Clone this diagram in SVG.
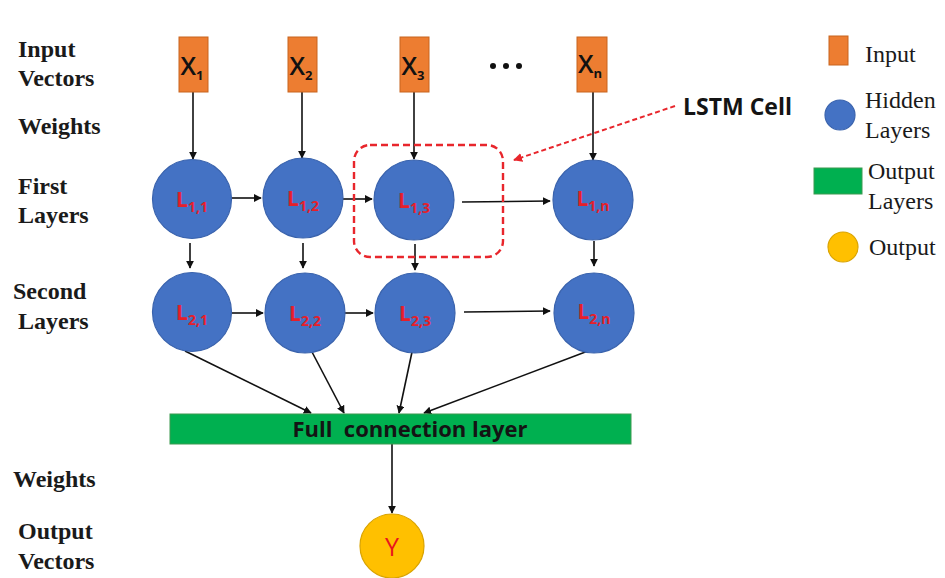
<svg xmlns="http://www.w3.org/2000/svg" width="945" height="578" viewBox="0 0 945 578">
  <style>
    .row-label { font-family: "Liberation Serif", serif; font-weight: bold; font-size: 24px; fill: #1a1a1a; }
    .legend-text { font-family: "Liberation Serif", serif; font-size: 24px; fill: #1a1a1a; }
    .input-box { fill: #ED7D31; stroke: #C8641E; stroke-width: 1; }
    .hidden { fill: #4472C4; stroke: #3A63AD; stroke-width: 1.2; }
    .fc { fill: #00B050; stroke: #3C9A50; stroke-width: 1; }
    .out { fill: #FFC000; stroke: #D9A300; stroke-width: 1.2; }
    .xlab { font-family: "Open Sans", "Liberation Sans", sans-serif; font-weight: 600; font-size: 25px; fill: #111; text-anchor: middle; }
    .xsub { font-size: 13px; font-weight: bold; }
    .llab { font-family: "Open Sans", "Liberation Sans", sans-serif; font-weight: bold; font-size: 21px; fill: #E5202A; text-anchor: middle; }
    .lsub { font-size: 14px; }
    .edge { stroke: #111; stroke-width: 1.6; fill: none; marker-end: url(#arrow); }
    .cell-box { fill: none; stroke: #E8262C; stroke-width: 2.4; stroke-dasharray: 7 4; }
    .cell-pointer { stroke: #E8262C; stroke-width: 2; stroke-dasharray: 5 3; fill: none; marker-end: url(#arrowRed); }
    .bold-sans { font-family: "Open Sans", "Liberation Sans", sans-serif; font-weight: bold; fill: #141414; }
  </style>
  <defs>
    <marker id="arrow" viewBox="0 0 10 10" refX="9" refY="5" markerWidth="8" markerHeight="8" markerUnits="userSpaceOnUse" orient="auto">
      <path d="M0,0 L10,5 L0,10 z" fill="#111"/>
    </marker>
    <marker id="arrowRed" viewBox="0 0 10 10" refX="9" refY="5" markerWidth="9" markerHeight="9" markerUnits="userSpaceOnUse" orient="auto">
      <path d="M0,0 L10,5 L0,10 z" fill="#E8262C"/>
    </marker>
  </defs>

  <rect width="945" height="578" fill="#ffffff"/>

  <!-- row labels on the left -->
  <g id="row-labels">
    <text class="row-label" x="18" y="57">Input</text>
    <text class="row-label" x="18" y="86">Vectors</text>
    <text class="row-label" x="18" y="134">Weights</text>
    <text class="row-label" x="18" y="194">First</text>
    <text class="row-label" x="18" y="223">Layers</text>
    <text class="row-label" x="13" y="299">Second</text>
    <text class="row-label" x="18" y="329">Layers</text>
    <text class="row-label" x="13" y="487">Weights</text>
    <text class="row-label" x="18" y="539">Output</text>
    <text class="row-label" x="18" y="569">Vectors</text>
  </g>

  <!-- connectors -->
  <g id="connectors">
    <!-- inputs to first layer -->
    <line class="edge" x1="193" y1="92" x2="193" y2="159"/>
    <line class="edge" x1="302" y1="92" x2="302" y2="158"/>
    <line class="edge" x1="414" y1="92" x2="414" y2="159"/>
    <line class="edge" x1="593" y1="92" x2="593" y2="160"/>
    <!-- first layer, left to right -->
    <line class="edge" x1="231" y1="198" x2="261" y2="198"/>
    <line class="edge" x1="343" y1="199" x2="372" y2="199"/>
    <line class="edge" x1="462" y1="202" x2="550" y2="201"/>
    <!-- first layer to second layer -->
    <line class="edge" x1="190" y1="243" x2="190" y2="268"/>
    <line class="edge" x1="303" y1="243" x2="303" y2="268"/>
    <line class="edge" x1="415" y1="244" x2="415" y2="270"/>
    <line class="edge" x1="594" y1="241" x2="594" y2="266"/>
    <!-- second layer, left to right -->
    <line class="edge" x1="232" y1="313" x2="263" y2="313"/>
    <line class="edge" x1="344" y1="313" x2="373" y2="313"/>
    <line class="edge" x1="464" y1="312" x2="550" y2="311"/>
    <!-- second layer to full connection layer -->
    <line class="edge" x1="185" y1="351" x2="311" y2="413"/>
    <line class="edge" x1="312" y1="352" x2="344" y2="413"/>
    <line class="edge" x1="412" y1="352" x2="399" y2="413"/>
    <line class="edge" x1="588" y1="351" x2="424" y2="413"/>
    <!-- full connection layer to output -->
    <line class="edge" x1="392" y1="444" x2="392" y2="513"/>
    <!-- pointer to the LSTM cell -->
    <line class="cell-pointer" x1="675" y1="106" x2="514" y2="160"/>
  </g>

  <!-- input vectors -->
  <g id="x1">
    <rect class="input-box" x="179" y="37" width="29" height="55"/>
    <text class="xlab" x="192" y="75">X<tspan class="xsub" dy="5">1</tspan></text>
  </g>
  <g id="x2">
    <rect class="input-box" x="288" y="37" width="29" height="55"/>
    <text class="xlab" x="301" y="75">X<tspan class="xsub" dy="5">2</tspan></text>
  </g>
  <g id="x3">
    <rect class="input-box" x="400" y="37" width="29" height="55"/>
    <text class="xlab" x="413" y="75">X<tspan class="xsub" dy="5">3</tspan></text>
  </g>
  <g id="ellipsis">
    <circle cx="493" cy="66" r="3" fill="#111"/>
    <circle cx="506" cy="66" r="3" fill="#111"/>
    <circle cx="519" cy="66" r="3" fill="#111"/>
  </g>
  <g id="xn">
    <rect class="input-box" x="577" y="37" width="30" height="55"/>
    <text class="xlab" x="590" y="73">X<tspan class="xsub" dy="5">n</tspan></text>
  </g>

  <!-- first hidden layer -->
  <g id="l11">
    <circle class="hidden" cx="192" cy="199" r="39.5"/>
    <text class="llab" x="192" y="207">L<tspan class="lsub" dy="5">1,1</tspan></text>
  </g>
  <g id="l12">
    <circle class="hidden" cx="303" cy="198" r="40"/>
    <text class="llab" x="303" y="206">L<tspan class="lsub" dy="5">1,2</tspan></text>
  </g>
  <g id="l13">
    <circle class="hidden" cx="414" cy="200" r="40"/>
    <text class="llab" x="414" y="208">L<tspan class="lsub" dy="5">1,3</tspan></text>
  </g>
  <g id="l1n">
    <circle class="hidden" cx="593" cy="200" r="40"/>
    <text class="llab" x="593" y="206" font-size="18">L<tspan class="lsub" dy="5" font-size="12">1,n</tspan></text>
  </g>

  <!-- second hidden layer -->
  <g id="l21">
    <circle class="hidden" cx="192" cy="312" r="39.5"/>
    <text class="llab" x="192" y="320">L<tspan class="lsub" dy="5">2,1</tspan></text>
  </g>
  <g id="l22">
    <circle class="hidden" cx="305" cy="313" r="40"/>
    <text class="llab" x="305" y="321">L<tspan class="lsub" dy="5">2,2</tspan></text>
  </g>
  <g id="l23">
    <circle class="hidden" cx="415" cy="313" r="40"/>
    <text class="llab" x="415" y="321">L<tspan class="lsub" dy="5">2,3</tspan></text>
  </g>
  <g id="l2n">
    <circle class="hidden" cx="594" cy="313" r="40"/>
    <text class="llab" x="594" y="319" font-size="18">L<tspan class="lsub" dy="5" font-size="12">2,n</tspan></text>
  </g>

  <!-- LSTM cell outline and label -->
  <g id="lstm-cell">
    <rect class="cell-box" x="354" y="145" width="149" height="112" rx="16"/>
    <text class="bold-sans" x="683" y="115" font-size="23">LSTM Cell</text>
  </g>

  <!-- full connection layer -->
  <g id="full-connection">
    <rect class="fc" x="170" y="414" width="461" height="30"/>
    <text class="bold-sans" x="410" y="437" font-size="22" text-anchor="middle" xml:space="preserve">Full  connection layer</text>
  </g>

  <!-- output -->
  <g id="y">
    <circle class="out" cx="392" cy="546" r="32"/>
    <text x="392" y="556" font-family="'Open Sans', 'Liberation Sans', sans-serif" font-size="25" fill="#E8141E" text-anchor="middle">Y</text>
  </g>

  <!-- legend -->
  <g id="legend">
    <rect class="input-box" x="829" y="36" width="19" height="29"/>
    <text class="legend-text" x="865" y="62">Input</text>
    <circle class="hidden" cx="840" cy="115" r="15"/>
    <text class="legend-text" x="865" y="108">Hidden</text>
    <text class="legend-text" x="865" y="138">Layers</text>
    <rect class="fc" x="814" y="168" width="48" height="26"/>
    <text class="legend-text" x="868" y="179">Output</text>
    <text class="legend-text" x="868" y="209">Layers</text>
    <circle class="out" cx="843" cy="247" r="15"/>
    <text class="legend-text" x="869" y="255">Output</text>
  </g>
</svg>
